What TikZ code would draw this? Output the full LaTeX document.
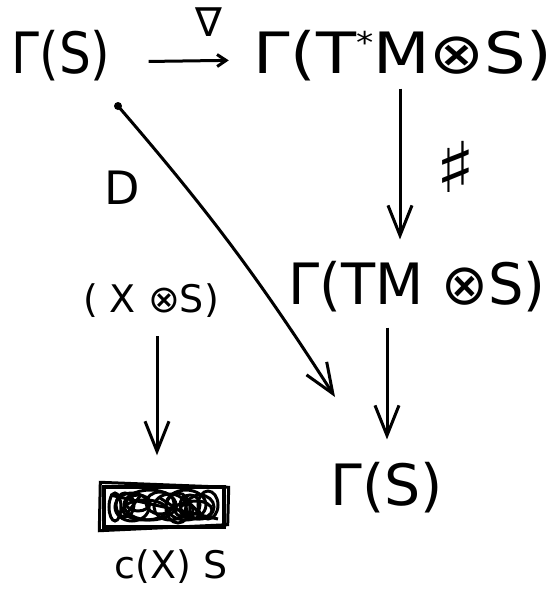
\documentclass[tikz,border=0pt]{standalone}
\usepackage{fontspec}
\setmainfont{DejaVu Sans}
\usetikzlibrary{arrows.meta,calc}
\begin{document}
\begin{tikzpicture}[x=1pt,y=-1pt,
  big/.style={inner sep=0pt,font=\fontsize{57}{62}\selectfont},
  mid/.style={inner sep=0pt,font=\fontsize{38}{42}\selectfont},
  arr/.style={line width=3pt,-{Straight Barb[length=30pt,width=24pt,line width=3pt]}},
  sarr/.style={line width=3pt,-{Straight Barb[length=9pt,width=12pt,line width=3pt]}},
  scrib/.style={line width=3pt}]
\useasboundingbox (0,0) rectangle (551,590);
% nodes
\node[big] (tl) at (61,56) {\scalebox{0.88}[1]{Γ(S)}};
\node[big] (tr) at (403,56) {\scalebox{1.15}[1]{Γ(T\raisebox{0.35em}{\fontsize{30}{30}\selectfont *}M⊗S)}};
\node[big] (mr) at (417,287) {\scalebox{0.98}[1]{Γ(TM ⊗S)}};
\node[big] (br) at (387,488) {Γ(S)};
\node[mid] (ml) at (151,301) {( X ⊗S)};
\node[inner sep=0pt,minimum width=120pt,minimum height=40pt,draw,line width=3.4pt] (bl) at (164,507) {};
\node[mid] (cl) at (171,567) {c(X) S};
\node[inner sep=0pt,font=\fontsize{40}{44}\selectfont] (nab) at (209,22) {∇};
\node[inner sep=0pt,font=\fontsize{70}{74}\selectfont] (sh) at (456,167) {\scalebox{1.2}[1]{♯}};
\node[inner sep=0pt,font=\fontsize{46}{50}\selectfont] (dl) at (122,188) {D};
% dot and diagonal tip
\coordinate (dot) at (118,106);
\coordinate (dtip) at (335,397);
\fill (dot) circle (4pt);
% connectors
\draw[sarr,shorten <=38pt,shorten >=25pt] ([yshift=-6]tl.east) -- ([yshift=-4]tr.west);
\draw[arr,shorten <=7pt,shorten >=22pt] ([xshift=-3]tr.south) -- ([xshift=-3]tr.south |- mr.north);
\draw[arr,shorten <=15pt,shorten >=23pt] (br.north |- mr.south) -- (br.north);
\draw[arr,shorten <=18pt,shorten >=30pt] ([xshift=6]ml.south) -- ([xshift=6]ml.south |- bl.north);
\draw[arr] (dot) to[bend left=4] (dtip);
% scribble inside the box
\begin{scope}[scrib]
\draw ([xshift=-3,yshift=-2]bl.south west) -- ([xshift=-2,yshift=3]bl.north west) -- ([xshift=3,yshift=-2]bl.north east) -- ([xshift=2,yshift=4]bl.south east) -- cycle;
\draw (132,507) ellipse (17pt and 14pt);
\draw (150,505) ellipse (26pt and 15pt);
\draw (170,507) ellipse (16pt and 13pt);
\draw (186,505) ellipse (20pt and 15pt);
\draw (200,507) ellipse (14pt and 12pt);
\draw (190,505) ellipse (10pt and 10pt);
\draw (145,510) ellipse (22pt and 10pt);
\draw (178,508) ellipse (12pt and 15pt);
\draw (208,505) ellipse (10pt and 14pt);
\draw (115,507) ellipse (6pt and 14pt);
\draw (125,505) ellipse (9pt and 12pt);
\draw (160,503) ellipse (14pt and 11pt);
\draw (196,510) ellipse (16pt and 9pt);
\draw (138,503) ellipse (12pt and 8pt);
\draw (184,510) ellipse (9pt and 7pt);
\draw (160,498) -- (188,516) (182,496) -- (205,518) (140,496) -- (125,516) (110,495) -- (218,519);
\end{scope}
\end{tikzpicture}
\end{document}
